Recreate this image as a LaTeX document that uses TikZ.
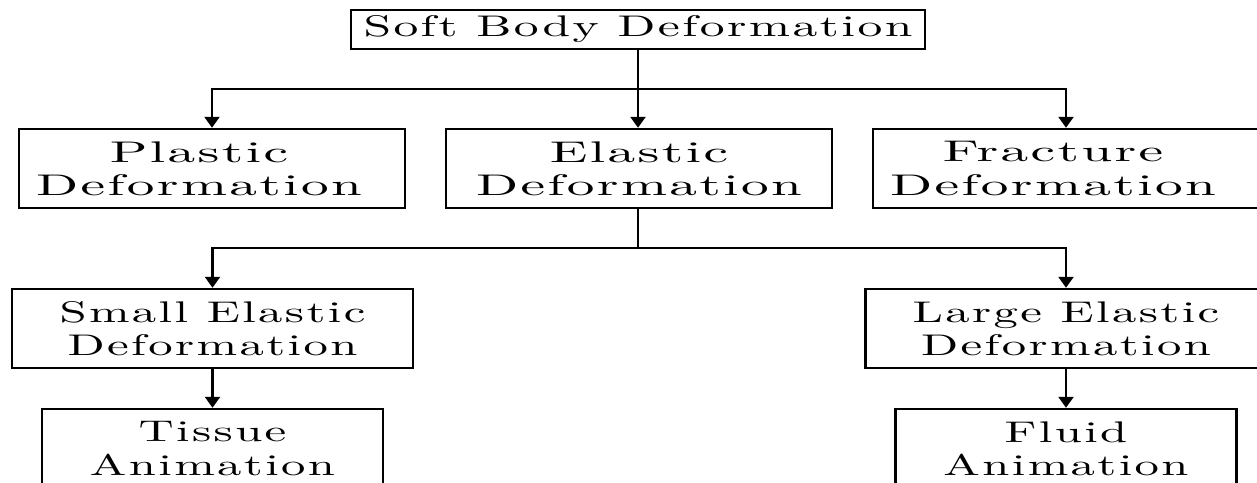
\documentclass[tikz,border=0pt]{standalone}
\usepackage{fontspec}
\newfontfamily\breitschrift{lmroman10-regular.otf}[FakeStretch=1.85,LetterSpace=8]
\newfontfamily\mittelschrift{lmroman10-regular.otf}[FakeStretch=1.66,LetterSpace=8]
\newfontfamily\schmalschrift{lmroman10-regular.otf}[FakeStretch=1.63,LetterSpace=8]
\usetikzlibrary{arrows.meta}

\begin{document}
\begin{tikzpicture}[
  block/.style={draw, line width=1.4pt, align=center, inner sep=0pt,
    minimum height=1.58cm},
  ebene1/.style={block, minimum width=7.72cm},
  text1/.style={align=center, inner sep=0pt,
    font=\breitschrift\fontsize{17}{19}\selectfont},
  ebene2/.style={block, minimum width=8.02cm,
    font=\schmalschrift\fontsize{17}{19}\selectfont},
  ebene3/.style={block, minimum width=6.82cm,
    font=\schmalschrift\fontsize{17}{19}\selectfont},
  pfeil/.style={-{Triangle[width=0.3cm,length=0.22cm]}, line width=1.4pt}]
  \useasboundingbox (0,0) rectangle (25.14,-9.64);
  % Wurzel
  \node[block, minimum width=11.48cm, minimum height=0.78cm,
    font=\mittelschrift\fontsize{17}{19}\selectfont] (soft) at (12.76,-0.59) {Soft Body Deformation};
  % erste Ebene
  \node[ebene1] (plastic) at (4.24,-3.37) {};
  \node[ebene1] (elastic) at (12.78,-3.37) {};
  \node[ebene1] (fracture) at (21.32,-3.37) {};
  \node[text1] (plastictext) at ([xshift=-0.26cm]plastic.center) {Plastic\\Deformation};
  \node[text1] (elastictext) at (elastic.center) {Elastic\\Deformation};
  \node[text1] (fracturetext) at ([xshift=-0.26cm]fracture.center) {Fracture\\Deformation};
  % zweite Ebene
  \node[ebene2] (small) at (4.25,-6.57) {Small Elastic\\Deformation};
  \node[ebene2] (large) at (21.32,-6.57) {Large Elastic\\Deformation};
  % dritte Ebene
  \node[ebene3] (tissue) at (4.25,-8.97) {Tissue\\Animation};
  \node[ebene3] (fluid) at (21.32,-8.97) {Fluid\\Animation};
  % Verzweigungen
  \coordinate (j1) at (12.76,-1.78);
  \coordinate (j2) at (12.76,-4.96);
  % Verbindungen
  \draw[line width=1.4pt] (soft) -- (j1);
  \draw[pfeil] (j1) -| (plastic.north);
  \draw[pfeil] (j1) -- (j1 |- elastic.north);
  \draw[pfeil] (j1) -| (fracture.north);
  \draw[line width=1.4pt] (j2 |- elastic.south) -- (j2);
  \draw[pfeil] (j2) -| (small.north);
  \draw[pfeil] (j2) -| (large.north);
  \draw[pfeil] (small) -- (tissue);
  \draw[pfeil] (large) -- (fluid);
\end{tikzpicture}
\end{document}
